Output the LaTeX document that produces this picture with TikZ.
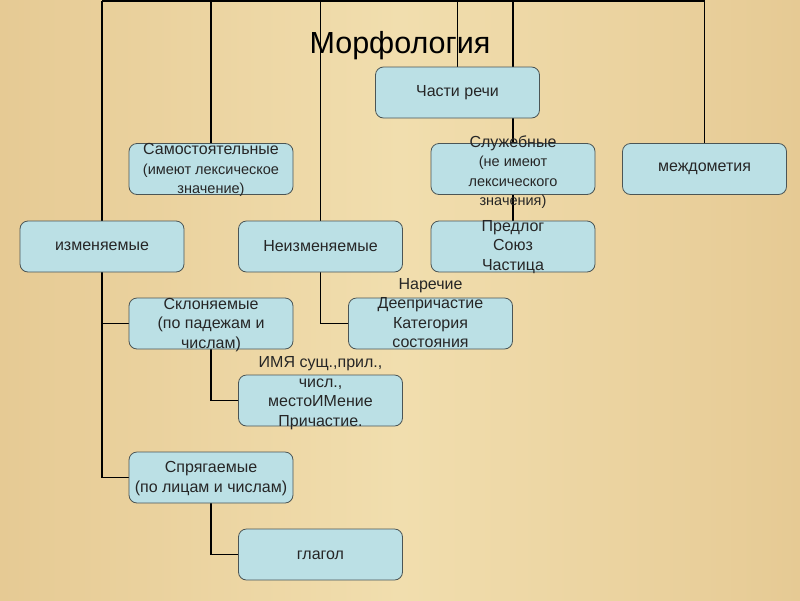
\documentclass[tikz,border=0pt]{standalone}
\usepackage{fontspec}
\setmainfont{Liberation Sans}
\definecolor{bglight}{RGB}{241,222,174}
\definecolor{bgdark}{RGB}{230,202,148}
\definecolor{boxfill}{RGB}{187,224,229}
\definecolor{boxline}{RGB}{75,85,85}
\pgfdeclarelayer{bglayer}
\pgfdeclarelayer{linelayer}
\pgfsetlayers{bglayer,linelayer,main}
\begin{document}
\begin{tikzpicture}[x=1pt,y=-1pt,
  box/.style={draw=boxline, fill=boxfill, rounded corners=8pt, line width=0.8pt,
    inner sep=0pt, minimum width=164pt, minimum height=51pt},
  txt/.style={align=center, inner sep=0pt, text=black!85,
    font=\fontsize{16}{19.5}\selectfont},
  conn/.style={line width=1.8pt, black}]
\useasboundingbox (0,0) rectangle (800,600);
\begin{pgfonlayer}{bglayer}
\shade[left color=bgdark, right color=bgdark, middle color=bglight] (0,0) rectangle (800,600);
\end{pgfonlayer}

% title
\node[anchor=base, inner sep=0pt, font=\fontsize{30.5}{34}\selectfont] (title) at (400,53) {Морфология};

% boxes
\node[box] (chasti) at (457.5,92.5) {};
\node[box] (samo) at (211,169) {};
\node[box] (sluzh) at (513,169) {};
\node[box] (mezhd) at (704.5,169) {};
\node[box] (izm) at (102,246.5) {};
\node[box] (neizm) at (320.5,246.5) {};
\node[box] (predl) at (513,246.5) {};
\node[box] (skl) at (211,323.5) {};
\node[box] (nar) at (430.5,323.5) {};
\node[box] (imya) at (320.5,400.5) {};
\node[box] (spr) at (211,477.5) {};
\node[box] (glag) at (320.5,554.5) {};

% texts
\node[txt] (chastiT) at (457.5,93) {Части речи};
\node[txt] (samoT) at (211,170) {Самостоятельные\\{\fontsize{14.5}{18}\selectfont (имеют лексическое}\\{\fontsize{14.5}{18}\selectfont значение)}};
\node[txt] (sluzhT) at (513,172) {Служебные\\{\fontsize{14.5}{18}\selectfont (не имеют}\\{\fontsize{14.5}{18}\selectfont лексического}\\{\fontsize{14.5}{18}\selectfont значения)}};
\node[txt] (mezhdT) at (704.5,169) {междометия};
\node[txt] (izmT) at (102,246.5) {изменяемые};
\node[txt] (neizmT) at (320.5,246.5) {Неизменяемые};
\node[txt] (predlT) at (513,247) {Предлог\\Союз\\Частица};
\node[txt] (sklT) at (211,325) {Склоняемые\\(по падежам и\\числам)};
\node[txt] (narT) at (430.5,313) {Наречие\\Деепричастие\\Категория\\состояния};
\node[txt] (imyaT) at (320.5,393) {ИМЯ сущ.,прил.,\\числ.,\\местоИМение\\Причастие.};
\node[txt] (sprT) at (211,478.5) {Спрягаемые\\(по лицам и числам)};
\node[txt] (glagT) at (320.5,555) {глагол};

% connectors (behind boxes)
\begin{pgfonlayer}{linelayer}
\coordinate (topL) at (102,1);
\coordinate (topR) at (704.5,1);
\draw[conn] (topL) -- (topR);
\draw[conn] (izm.north |- topL) -- (izm.north);
\draw[conn] (samo.north |- topL) -- (samo.north);
\draw[conn] (neizm.north |- topL) -- (neizm.north);
\draw[conn] (chasti.north |- topL) -- (chasti.north);
\draw[conn] (sluzh.north |- topL) -- (sluzh.north);
\draw[conn] (mezhd.north |- topL) -- (mezhd.north);
\draw[conn] (sluzh.south) -- (predl.north);
\draw[conn] (izm.south) |- (spr.west);
\draw[conn] (izm.south |- skl.west) -- (skl.west);
\draw[conn] (neizm.south) |- (nar.west);
\draw[conn] (skl.south) |- (imya.west);
\draw[conn] (spr.south) |- (glag.west);
\end{pgfonlayer}
\end{tikzpicture}
\end{document}
